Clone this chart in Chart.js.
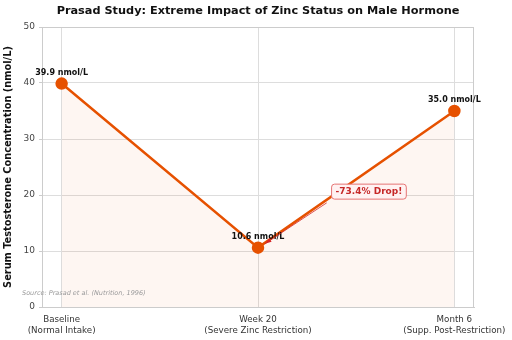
<!DOCTYPE html>
<html><head><meta charset="utf-8">
<script src="https://cdn.jsdelivr.net/npm/chart.js@4"></script>
<style>html,body{margin:0;padding:0;background:#fff}#wrap{width:512px;height:340px}</style>
</head><body><div id="wrap"><canvas id="c" width="512" height="340"></canvas></div>
<script>
const categories = [["Baseline","(Normal Intake)"],["Week 20","(Severe Zinc Restriction)"],["Month 6","(Supp. Post-Restriction)"]];
const testosterone = [39.9, 10.6, 35.0];
const pointLabels = ["39.9 nmol/L","10.6 nmol/L","35.0 nmol/L"];
const yTicks = [0,10,20,30,40,50];
const titleText = "Prasad Study: Extreme Impact of Zinc Status on Male Hormone";
const dropText = "-73.4% Drop!";
const sourceText = "Source: Prasad et al. (Nutrition, 1996)";

const FONT = "'DejaVu Sans', sans-serif";
const ORANGE = "#e65100";

const extras = {
  id: 'extras',
  afterDraw(chart) {
    const ctx = chart.ctx, x = chart.scales.x, y = chart.scales.y, a = chart.chartArea;
    ctx.save();
    // title centred over plot area
    ctx.fillStyle = '#111'; ctx.font = "bold 11.3px " + FONT; ctx.textAlign = 'center'; ctx.textBaseline = 'middle';
    ctx.fillText(titleText, (a.left + a.right) / 2, 11);
    // frame
    ctx.strokeStyle = '#cccccc'; ctx.lineWidth = 1;
    ctx.strokeRect(a.left + 0.5, a.top + 0.5, a.right - a.left - 1, a.bottom - a.top);
    // point labels
    ctx.fillStyle = '#111'; ctx.font = "bold 8px " + FONT;
    testosterone.forEach((v, i) => {
      ctx.fillText(pointLabels[i], x.getPixelForValue(i), y.getPixelForValue(v) - 11);
    });
    // arrow
    const bx = x.getPixelForValue(1.565), by = y.getPixelForValue(20.6);
    const tx = x.getPixelForValue(1.035), ty = y.getPixelForValue(11.3);
    const sx = x.getPixelForValue(1.35), sy = y.getPixelForValue(18.6);
    ctx.strokeStyle = '#d62728'; ctx.lineWidth = 0.8;
    ctx.beginPath(); ctx.moveTo(sx, sy); ctx.lineTo(tx, ty); ctx.stroke();
    const ang = Math.atan2(ty - sy, tx - sx);
    ctx.fillStyle = '#d62728';
    ctx.beginPath(); ctx.moveTo(tx, ty);
    ctx.lineTo(tx - 7 * Math.cos(ang - 0.3), ty - 7 * Math.sin(ang - 0.3));
    ctx.lineTo(tx - 7 * Math.cos(ang + 0.3), ty - 7 * Math.sin(ang + 0.3));
    ctx.closePath(); ctx.fill();
    // annotation box
    ctx.font = "bold 9px " + FONT;
    const w = ctx.measureText(dropText).width + 8, h = 15;
    ctx.fillStyle = '#fff2f2'; ctx.strokeStyle = '#e57373'; ctx.lineWidth = 1;
    ctx.beginPath(); ctx.roundRect(bx - w / 2, by - h / 2, w, h, 3); ctx.fill(); ctx.stroke();
    ctx.fillStyle = '#c62828'; ctx.fillText(dropText, bx, by + 0.5);
    // source
    ctx.font = "italic 6.5px " + FONT; ctx.fillStyle = '#999'; ctx.textAlign = 'left';
    ctx.fillText(sourceText, 22, 293);
    ctx.restore();
  }
};

new Chart(document.getElementById('c'), {
  type: 'line',
  data: {
    datasets: [{
      data: testosterone.map((v, i) => ({x: i, y: v})),
      borderColor: ORANGE, backgroundColor: 'rgba(230,81,0,0.05)', fill: 'origin',
      borderWidth: 2.5, pointRadius: 5, pointBackgroundColor: ORANGE, pointBorderColor: ORANGE,
      tension: 0
    }]
  },
  options: {
    responsive: false, animation: false,
    layout: { padding: { top: 27, right: 38, left: 0, bottom: 0 } },
    plugins: {
      legend: { display: false }, tooltip: { enabled: false }, title: { display: false }
    },
    scales: {
      x: {
        type: 'linear', min: -0.1, max: 2.1,
        afterFit(s) { s.height = 33; s.paddingLeft = 0; s.paddingRight = 0; },
        afterBuildTicks(s) { s.ticks = [0, 1, 2].map(v => ({ value: v })); },
        ticks: { callback: (v) => categories[v], font: { family: FONT, size: 8.7 }, color: '#333', padding: 8, maxRotation: 0, autoSkip: false },
        grid: { color: '#dddddd', drawTicks: false },
        border: { color: '#cccccc' }
      },
      y: {
        min: 0, max: 50,
        afterFit(s) { s.width = 42; s.paddingTop = 0; s.paddingBottom = 0; },
        afterBuildTicks(s) { s.ticks = yTicks.map(v => ({ value: v })); },
        ticks: { font: { family: FONT, size: 9 }, color: '#444', padding: 4 },
        grid: { color: '#dddddd', drawTicks: true, tickLength: 3, tickColor: '#cccccc' },
        border: { color: '#cccccc' },
        title: { display: true, text: 'Serum Testosterone Concentration (nmol/L)', font: { family: FONT, size: 9.8, weight: 'bold' }, color: '#111', padding: { top: 3, bottom: 0 } }
      }
    }
  },
  plugins: [extras]
});
</script></body></html>
